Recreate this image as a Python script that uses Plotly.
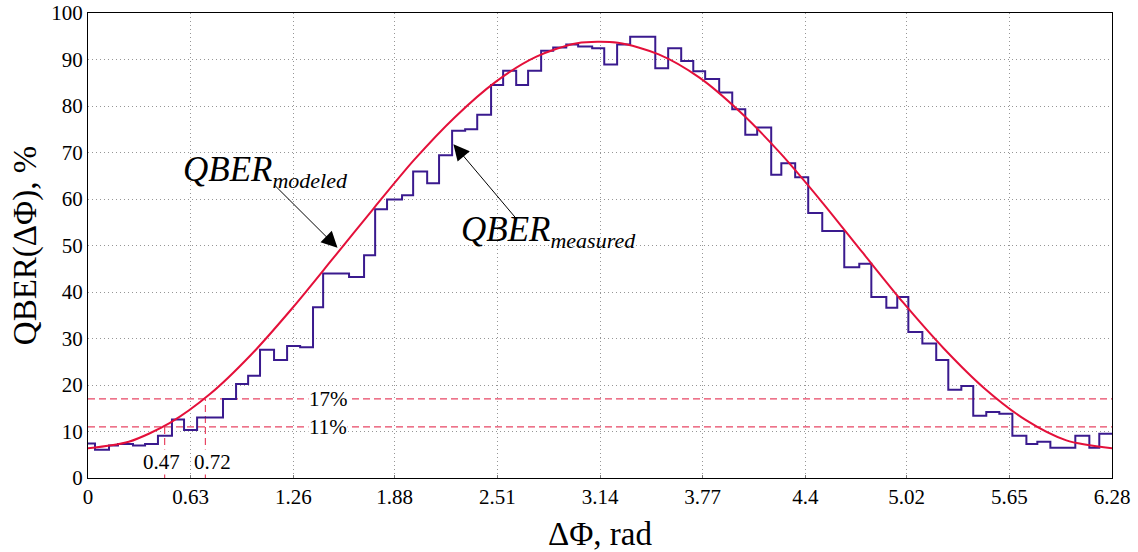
import plotly.graph_objects as go

# ---- data ----
# modeled QBER (smooth red curve)
model_x = [0.0, 0.25, 0.5, 0.75, 1.0, 1.25, 1.5, 1.75, 2.0, 2.25, 2.5, 2.75, 3.0,
           3.25, 3.5, 3.75, 4.0, 4.25, 4.5, 4.75, 5.0, 5.25, 5.5, 5.75, 6.0, 6.28]
model_y = [6.4, 7.8, 11.8, 18.1, 26.5, 36.4, 47.1, 57.9, 68.4, 77.6, 85.2, 90.6, 93.5,
           93.6, 91.1, 86.1, 78.7, 69.7, 59.4, 48.5, 37.7, 27.8, 19.2, 12.5, 8.1, 6.4]

# measured QBER (step line) - step start positions and levels
meas_x = [0.000, 0.043, 0.129, 0.184, 0.276, 0.350, 0.429, 0.515, 0.589, 0.669,
          0.828, 0.908, 0.982, 1.055, 1.141, 1.221, 1.301, 1.380, 1.442, 1.601,
          1.693, 1.761, 1.834, 1.926, 1.994, 2.080, 2.153, 2.233, 2.313, 2.387,
          2.472, 2.546, 2.626, 2.699, 2.779, 2.853, 2.933, 3.006, 3.092, 3.166,
          3.245, 3.325, 3.479, 3.558, 3.638, 3.712, 3.785, 3.871, 3.951, 4.031,
          4.104, 4.190, 4.252, 4.337, 4.417, 4.503, 4.638, 4.730, 4.804, 4.896,
          4.963, 5.031, 5.117, 5.202, 5.276, 5.356, 5.429, 5.509, 5.589, 5.669,
          5.755, 5.822, 5.902, 6.055, 6.141, 6.202, 6.280]
meas_y = [7.4, 6.1, 7.0, 7.3, 7.0, 7.3, 9.1, 12.6, 10.3, 13.0,
          17.0, 20.2, 22.0, 27.6, 25.4, 28.4, 28.1, 36.7, 44.0, 43.2,
          47.9, 57.8, 59.9, 60.8, 65.9, 63.4, 69.4, 74.7, 75.0, 78.1,
          84.5, 87.6, 84.5, 87.6, 91.9, 92.6, 93.2, 92.8, 92.4, 88.9,
          93.2, 94.9, 88.1, 92.4, 89.7, 87.5, 85.8, 82.9, 79.3, 73.8,
          75.4, 65.2, 67.7, 64.7, 57.0, 53.1, 45.3, 46.1, 38.9, 36.6,
          38.9, 31.4, 28.9, 25.4, 19.0, 19.8, 13.4, 14.2, 13.8, 9.1,
          7.3, 7.8, 6.5, 9.1, 6.5, 9.5, 9.5]

# thresholds and crossings
thresholds = [17, 11]
threshold_labels = ["17%", "11%"]
crossings_x = [0.72, 0.47]
crossing_labels = ["0.72", "0.47"]

x_ticks = [0, 0.63, 1.26, 1.88, 2.51, 3.14, 3.77, 4.4, 5.02, 5.65, 6.28]
x_tick_text = ["0", "0.63", "1.26", "1.88", "2.51", "3.14", "3.77", "4.4", "5.02", "5.65", "6.28"]
y_ticks = [0, 10, 20, 30, 40, 50, 60, 70, 80, 90, 100]

SERIF = "Liberation Serif, DejaVu Serif, serif"
DASH_RED = "rgb(232,70,100)"
MODEL_RED = "rgb(228,16,58)"
MEAS_BLUE = "rgb(58,26,142)"

fig = go.Figure()

# dashed threshold lines
for t in thresholds:
    fig.add_trace(go.Scatter(x=[x_ticks[0], x_ticks[-1]], y=[t, t], mode="lines",
                             line=dict(color=DASH_RED, width=1.2, dash="7px,4px"),
                             hoverinfo="skip", showlegend=False))
for cx, t in zip(crossings_x, thresholds):
    fig.add_trace(go.Scatter(x=[cx, cx], y=[0, t], mode="lines",
                             line=dict(color=DASH_RED, width=1.2, dash="7px,4px"),
                             hoverinfo="skip", showlegend=False))

fig.add_trace(go.Scatter(x=meas_x, y=meas_y, mode="lines", line_shape="hv",
                         line=dict(color=MEAS_BLUE, width=2), showlegend=False))
fig.add_trace(go.Scatter(x=model_x, y=model_y, mode="lines", line_shape="spline",
                         line=dict(color=MODEL_RED, width=2, smoothing=0.8), showlegend=False))

ann = []
# arrows
ann.append(dict(x=1.53, y=49.5, ax=1.135, ay=63.3, xref="x", yref="y", axref="x", ayref="y",
                text="", showarrow=True, arrowhead=2, arrowsize=3.2, arrowwidth=1, arrowcolor="black"))
ann.append(dict(x=2.241, y=71.8, ax=2.626, ay=55.8, xref="x", yref="y", axref="x", ayref="y",
                text="", showarrow=True, arrowhead=2, arrowsize=3.2, arrowwidth=1, arrowcolor="black"))
# labels
SUBSTYLE = "font-size:22px"
ann.append(dict(x=1.086, y=66.0, xref="x", yref="y", showarrow=False,
                text="<i>QBER</i><sub><i><span style='%s'>modeled</span></i></sub>" % SUBSTYLE,
                font=dict(family=SERIF, size=35, color="black")))
ann.append(dict(x=2.822, y=53.0, xref="x", yref="y", showarrow=False,
                text="<i>QBER</i><sub><i><span style='%s'>measured</span></i></sub>" % SUBSTYLE,
                font=dict(family=SERIF, size=35, color="black")))
for t, lab in zip(thresholds, threshold_labels):
    ann.append(dict(x=1.472, y=t, xref="x", yref="y", showarrow=False, text=lab,
                    bgcolor="white", borderpad=0,
                    font=dict(family=SERIF, size=21, color="black")))
label_x = [0.761, 0.448]
for lx, lab in zip(label_x, crossing_labels):
    ann.append(dict(x=lx, y=3.45, xref="x", yref="y", showarrow=False, text=lab,
                    bgcolor="white", borderpad=0,
                    font=dict(family=SERIF, size=21, color="black")))

fig.update_layout(
    width=1138, height=552,
    margin=dict(l=88, r=26, t=13, b=74),
    paper_bgcolor="white", plot_bgcolor="white",
    font=dict(family=SERIF, size=21, color="black"),
    annotations=ann,
    showlegend=False,
)
fig.update_xaxes(range=[0, 6.28], tickvals=x_ticks, ticktext=x_tick_text, automargin=False,
                 showgrid=True, gridcolor="rgb(150,150,150)", griddash="1px,3px", gridwidth=1,
                 showline=True, mirror=True, linecolor="black", linewidth=1,
                 ticks="inside", ticklen=3, tickcolor="rgb(120,120,120)",
                 zeroline=False, tickfont=dict(family=SERIF, size=21),
                 title=dict(text="ΔΦ, rad", font=dict(family=SERIF, size=33), standoff=16))
fig.update_yaxes(range=[0, 100], tickvals=y_ticks, automargin=False,
                 showgrid=True, gridcolor="rgb(150,150,150)", griddash="1px,3px", gridwidth=1,
                 showline=True, mirror=True, linecolor="black", linewidth=1,
                 ticks="", zeroline=False, tickfont=dict(family=SERIF, size=21),
                 title=dict(text="QBER(ΔΦ), %", font=dict(family=SERIF, size=33), standoff=4))

fig.write_html("out.html")
